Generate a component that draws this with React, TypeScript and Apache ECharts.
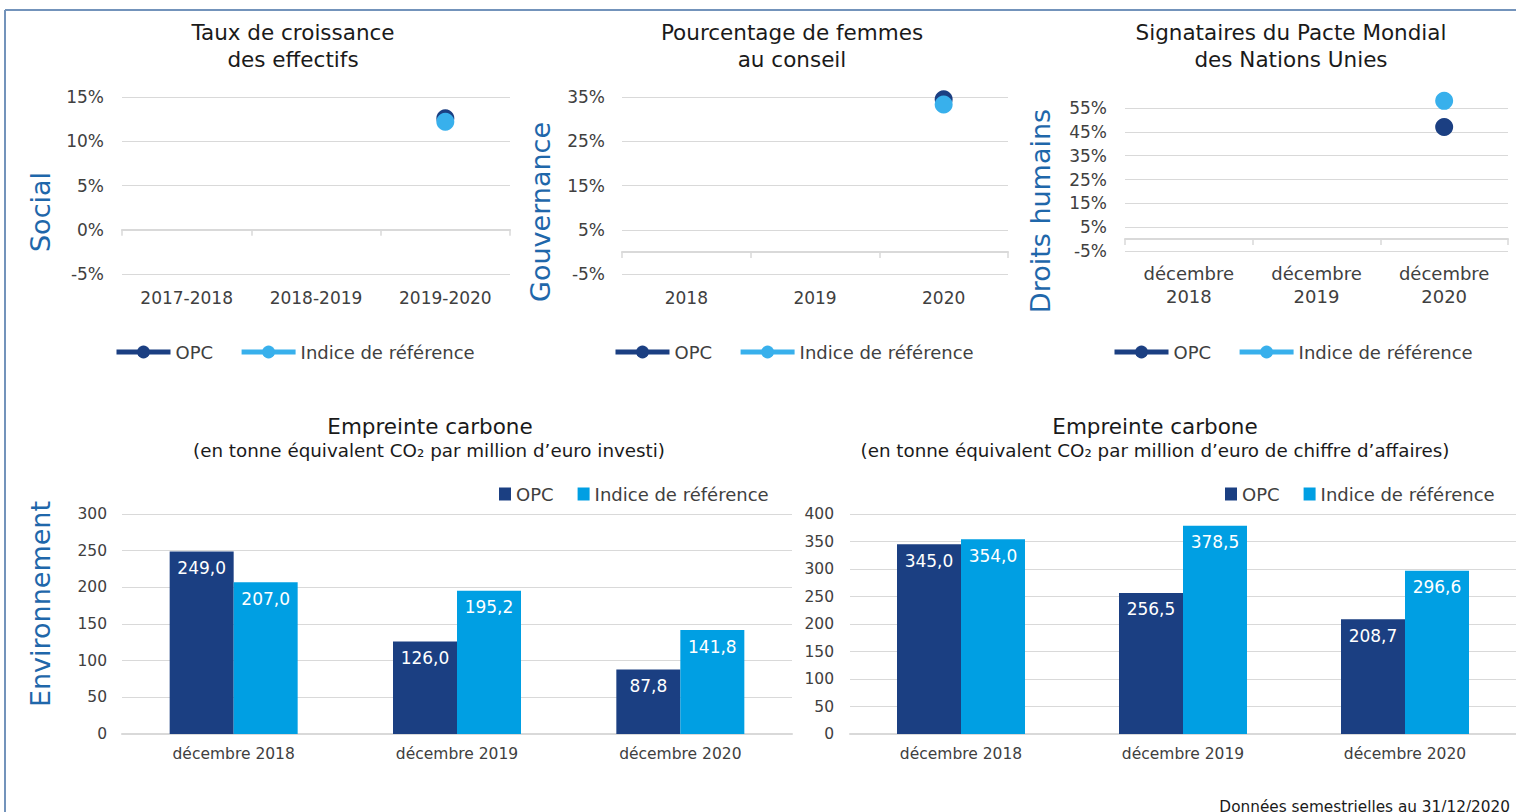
import React, { useEffect, useRef } from "react";
import * as echarts from "echarts";

const FONT = "DejaVu Sans";

const socialCats = ["2017-2018", "2018-2019", "2019-2020"];
const socialOPC = [null, null, 12.6];
const socialIndex = [null, null, 12.2];

const govCats = ["2018", "2019", "2020"];
const govOPC = [null, null, 34.5];
const govIndex = [null, null, 33.3];

const hrCats = ["décembre\n2018", "décembre\n2019", "décembre\n2020"];
const hrOPC = [null, null, 47.0];
const hrIndex = [null, null, 58.0];

const carbonCats = ["décembre 2018", "décembre 2019", "décembre 2020"];
const carbonInvOPC = [249.0, 126.0, 87.8];
const carbonInvIndex = [207.0, 195.2, 141.8];
const carbonCaOPC = [345.0, 256.5, 208.7];
const carbonCaIndex = [354.0, 378.5, 296.6];

const DARK = "#1b3f82";
const LIGHT_BAR = "#009fe3";
const LIGHT_DOT = "#38b0ec";
const GRID_C = "#d9d9d9";
const TXT = "#404040";
const AXNAME = "#1f67aa";
const TITLE_C = "#1a1a1a";

const pct = (v: number) => `${v}%`;
const fr = (v: number) => v.toFixed(1).replace(".", ",");

function App() {
  const ref = useRef<HTMLDivElement>(null);
  useEffect(() => {
    if (!ref.current) return;
    const chart = echarts.init(ref.current, null, { renderer: "svg" });

    const grids = [
      { left: 122, top: 97, width: 388, height: 177 },
      { left: 622, top: 97, width: 386, height: 177 },
      { left: 1125, top: 108, width: 383, height: 143 },
      { left: 122, top: 514, width: 670, height: 220 },
      { left: 850, top: 514, width: 666, height: 220 },
    ].map((g) => ({ ...g, containLabel: false, outerBoundsMode: "none" }));

    const catAxisTop = (idx: number, data: string[], margin: number, fs: number) => ({
      type: "category",
      gridIndex: idx,
      data,
      boundaryGap: true,
      axisLine: { onZero: true, lineStyle: { color: GRID_C, width: 2 } },
      axisTick: { show: true, length: 6, lineStyle: { color: GRID_C, width: 1.5 } },
      axisLabel: { margin, color: TXT, fontSize: fs, fontFamily: FONT, lineHeight: 23 },
      splitLine: { show: false },
    });
    const catAxisBottom = (idx: number) => ({
      type: "category",
      gridIndex: idx,
      data: carbonCats,
      boundaryGap: true,
      axisLine: { lineStyle: { color: GRID_C, width: 2 } },
      axisTick: { show: false },
      axisLabel: { margin: 12, color: TXT, fontSize: 15.5, fontFamily: FONT },
    });
    const valAxis = (idx: number, min: number, max: number, interval: number, percent: boolean, margin: number, fs: number) => ({
      type: "value",
      gridIndex: idx,
      min,
      max,
      interval,
      axisLine: { show: false },
      axisTick: { show: false },
      axisLabel: {
        margin,
        color: TXT,
        fontSize: fs,
        fontFamily: FONT,
        formatter: percent ? pct : (v: number) => `${v}`,
      },
      splitLine: { lineStyle: { color: GRID_C, width: 1 } },
    });

    const dotSeries = (name: string, idx: number, data: (number | null)[], color: string) => ({
      name,
      type: "line",
      xAxisIndex: idx,
      yAxisIndex: idx,
      data,
      symbol: "circle",
      symbolSize: 18,
      showSymbol: true,
      clip: false,
      itemStyle: { color },
      lineStyle: { color, width: 5 },
      emphasis: { disabled: true },
    });
    const barSeries = (name: string, idx: number, data: number[], color: string) => ({
      name,
      type: "bar",
      xAxisIndex: idx,
      yAxisIndex: idx,
      data,
      barWidth: 64,
      barGap: "0%",
      itemStyle: { color },
      label: {
        show: true,
        position: "insideTop",
        distance: 8,
        color: "#ffffff",
        fontSize: 17,
        fontFamily: FONT,
        formatter: (p: any) => fr(p.value),
      },
      emphasis: { disabled: true },
    });

    const stripName = (n: string) => n.split("|")[0];

    const topLegend = (left: number) => ({
      left,
      top: 343,
      padding: 0,
      orient: "horizontal",
      itemWidth: 54,
      itemHeight: 16,
      itemGap: 26,
      data: ["OPC", "Indice de référence"],
      formatter: stripName,
      lineStyle: { width: 5 },
      textStyle: { color: TXT, fontSize: 18, fontFamily: FONT },
      selectedMode: false,
    });
    const botLegend = (left: number) => ({
      left,
      top: 485,
      padding: 0,
      orient: "horizontal",
      itemWidth: 12,
      itemHeight: 13,
      itemGap: 24,
      icon: "rect",
      data: ["OPC|bar", "Indice de référence|bar"],
      formatter: stripName,
      textStyle: { color: TXT, fontSize: 18, fontFamily: FONT },
      selectedMode: false,
    });

    const txt = (text: string, x: number, y: number, fontSize: number, color: string, align = "center", rotation = 0) => ({
      type: "text",
      x,
      y,
      rotation,
      silent: true,
      style: {
        text,
        fill: color,
        fontSize,
        fontFamily: FONT,
        textAlign: align,
        textVerticalAlign: "middle",
      },
    });

    const option: any = {
      animation: false,
      backgroundColor: "#ffffff",
      grid: grids,
      xAxis: [
        catAxisTop(0, socialCats, 12, 17),
        catAxisTop(1, govCats, 12, 17),
        catAxisTop(2, hrCats, 11, 18),
        catAxisBottom(3),
        catAxisBottom(4),
      ],
      yAxis: [
        valAxis(0, -5, 15, 5, true, 18, 17),
        valAxis(1, -5, 35, 10, true, 17, 17),
        valAxis(2, -5, 55, 10, true, 18, 17),
        valAxis(3, 0, 300, 50, false, 15, 15.5),
        valAxis(4, 0, 400, 50, false, 16, 15.5),
      ],
      legend: [topLegend(114), topLegend(613), topLegend(1112), botLegend(499), botLegend(1225)],
      series: [
        dotSeries("OPC", 0, socialOPC, DARK),
        dotSeries("Indice de référence", 0, socialIndex, LIGHT_DOT),
        dotSeries("OPC", 1, govOPC, DARK),
        dotSeries("Indice de référence", 1, govIndex, LIGHT_DOT),
        dotSeries("OPC", 2, hrOPC, DARK),
        dotSeries("Indice de référence", 2, hrIndex, LIGHT_DOT),
        barSeries("OPC|bar", 3, carbonInvOPC, DARK),
        barSeries("Indice de référence|bar", 3, carbonInvIndex, LIGHT_BAR),
        barSeries("OPC|bar", 4, carbonCaOPC, DARK),
        barSeries("Indice de référence|bar", 4, carbonCaIndex, LIGHT_BAR),
      ],
      graphic: [
        { type: "line", silent: true, shape: { x1: 5, y1: 10, x2: 1516, y2: 10 }, style: { stroke: "#7393bb", lineWidth: 2 } },
        { type: "line", silent: true, shape: { x1: 5, y1: 10, x2: 5, y2: 812 }, style: { stroke: "#7393bb", lineWidth: 2 } },
        txt("Taux de croissance", 293, 32, 21.5, TITLE_C),
        txt("des effectifs", 293, 59, 21.5, TITLE_C),
        txt("Pourcentage de femmes", 792, 32, 21.5, TITLE_C),
        txt("au conseil", 792, 59, 21.5, TITLE_C),
        txt("Signataires du Pacte Mondial", 1291, 32, 21.5, TITLE_C),
        txt("des Nations Unies", 1291, 59, 21.5, TITLE_C),
        txt("Empreinte carbone", 430, 426, 21.5, TITLE_C),
        txt("(en tonne équivalent CO₂ par million d’euro investi)", 429, 450, 18.3, TITLE_C),
        txt("Empreinte carbone", 1155, 426, 21.5, TITLE_C),
        txt("(en tonne équivalent CO₂ par million d’euro de chiffre d’affaires)", 1155, 450, 18.3, TITLE_C),
        txt("Social", 40, 212, 27, AXNAME, "center", Math.PI / 2),
        txt("Gouvernance", 540, 212, 27, AXNAME, "center", Math.PI / 2),
        txt("Droits humains", 1040, 211, 27, AXNAME, "center", Math.PI / 2),
        txt("Environnement", 40, 604, 27, AXNAME, "center", Math.PI / 2),
        txt("Données semestrielles au 31/12/2020", 1510, 807, 15.3, TITLE_C, "right"),
      ],
    };

    chart.setOption(option);
    return () => chart.dispose();
  }, []);

  return (
    <div
      ref={ref}
      style={{ position: "absolute", left: 0, top: 0, width: 1516, height: 812, background: "#fff" }}
    />
  );
}

export default App;
